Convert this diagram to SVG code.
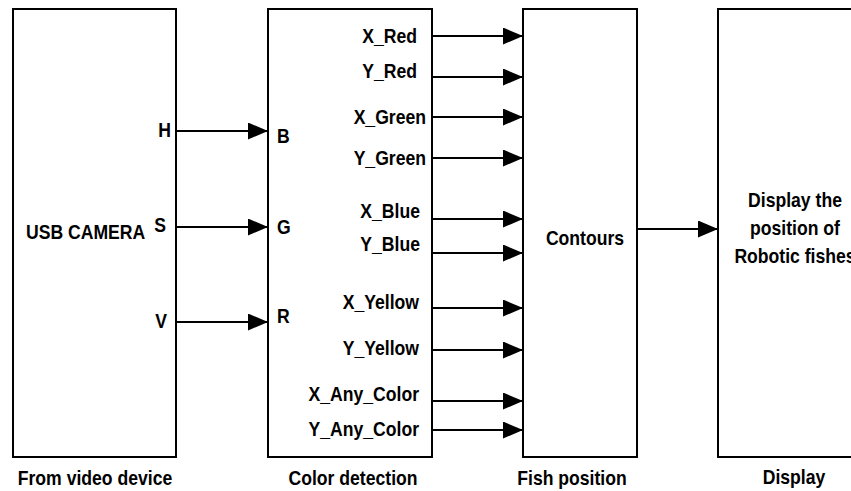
<svg xmlns="http://www.w3.org/2000/svg" width="851" height="491" viewBox="0 0 851 491">
  <style>
    .box { fill: #ffffff; stroke: #000000; stroke-width: 2; }
    .wire { stroke: #000000; stroke-width: 2; fill: none; marker-end: url(#head); }
    text { font-family: "Liberation Sans", Arial, sans-serif; font-weight: bold; font-size: 20px; fill: #000000; }
    .end { text-anchor: end; }
    .mid { text-anchor: middle; }
  </style>
  <defs>
    <marker id="head" markerUnits="userSpaceOnUse" markerWidth="20" markerHeight="17" refX="20" refY="8.5" orient="auto">
      <path d="M0,0 L20,8.5 L0,17 Z" fill="#000000"/>
    </marker>
  </defs>
  <rect width="851" height="491" fill="#ffffff"/>

  <!-- Source: camera (labels use a narrowed bold face) -->
  <g id="camera">
    <rect class="box" x="13" y="9" width="163" height="448"/>
    <text transform="translate(26,239) scale(0.88,1)">USB CAMERA</text>
    <text class="end" transform="translate(171,137) scale(0.88,1)">H</text>
    <text class="end" transform="translate(166,232) scale(0.88,1)">S</text>
    <text class="end" transform="translate(167,328) scale(0.88,1)">V</text>
    <text class="mid" transform="translate(95,485) scale(0.88,1)">From video device</text>
  </g>

  <!-- Color detection stage -->
  <g id="color-detection">
    <rect class="box" x="268" y="9" width="164" height="448"/>
    <text transform="translate(277,143) scale(0.88,1)">B</text>
    <text transform="translate(277,234) scale(0.88,1)">G</text>
    <text transform="translate(277,323) scale(0.88,1)">R</text>
    <text class="end" transform="translate(417,43) scale(0.88,1)">X_Red</text>
    <text class="end" transform="translate(417,78) scale(0.88,1)">Y_Red</text>
    <text class="end" transform="translate(426,124) scale(0.88,1)">X_Green</text>
    <text class="end" transform="translate(426,165) scale(0.88,1)">Y_Green</text>
    <text class="end" transform="translate(420,218) scale(0.88,1)">X_Blue</text>
    <text class="end" transform="translate(420,251) scale(0.88,1)">Y_Blue</text>
    <text class="end" transform="translate(419,309) scale(0.88,1)">X_Yellow</text>
    <text class="end" transform="translate(419,355) scale(0.88,1)">Y_Yellow</text>
    <text class="end" transform="translate(419,401) scale(0.88,1)">X_Any_Color</text>
    <text class="end" transform="translate(419,436) scale(0.88,1)">Y_Any_Color</text>
    <text class="mid" transform="translate(353,485) scale(0.88,1)">Color detection</text>
  </g>

  <!-- Fish position stage -->
  <g id="fish-position">
    <rect class="box" x="523" y="9" width="114" height="448"/>
    <text class="mid" transform="translate(585,245) scale(0.88,1)">Contours</text>
    <text class="mid" transform="translate(572,485) scale(0.88,1)">Fish position</text>
  </g>

  <!-- Display stage (box runs past the right edge) -->
  <g id="display">
    <rect class="box" x="718" y="9" width="160" height="448"/>
    <text class="mid" transform="translate(795,207) scale(0.88,1)">Display the</text>
    <text class="mid" transform="translate(795,235) scale(0.88,1)">position of</text>
    <text class="mid" transform="translate(795,263) scale(0.88,1)">Robotic fishes</text>
    <text class="mid" transform="translate(794,484) scale(0.88,1)">Display</text>
  </g>

  <!-- Connectors -->
  <g id="connectors">
    <line class="wire" x1="176" y1="131" x2="268" y2="131"/>
    <line class="wire" x1="176" y1="227" x2="268" y2="227"/>
    <line class="wire" x1="176" y1="322" x2="268" y2="322"/>

    <line class="wire" x1="432" y1="36" x2="523" y2="36"/>
    <line class="wire" x1="432" y1="77" x2="523" y2="77"/>
    <line class="wire" x1="432" y1="117" x2="523" y2="117"/>
    <line class="wire" x1="432" y1="158" x2="523" y2="158"/>
    <line class="wire" x1="432" y1="219" x2="523" y2="219"/>
    <line class="wire" x1="432" y1="253" x2="523" y2="253"/>
    <line class="wire" x1="432" y1="308" x2="523" y2="308"/>
    <line class="wire" x1="432" y1="350" x2="523" y2="350"/>
    <line class="wire" x1="432" y1="401" x2="523" y2="401"/>
    <line class="wire" x1="432" y1="430" x2="523" y2="430"/>

    <line class="wire" x1="637" y1="229" x2="718" y2="229"/>
  </g>
</svg>
